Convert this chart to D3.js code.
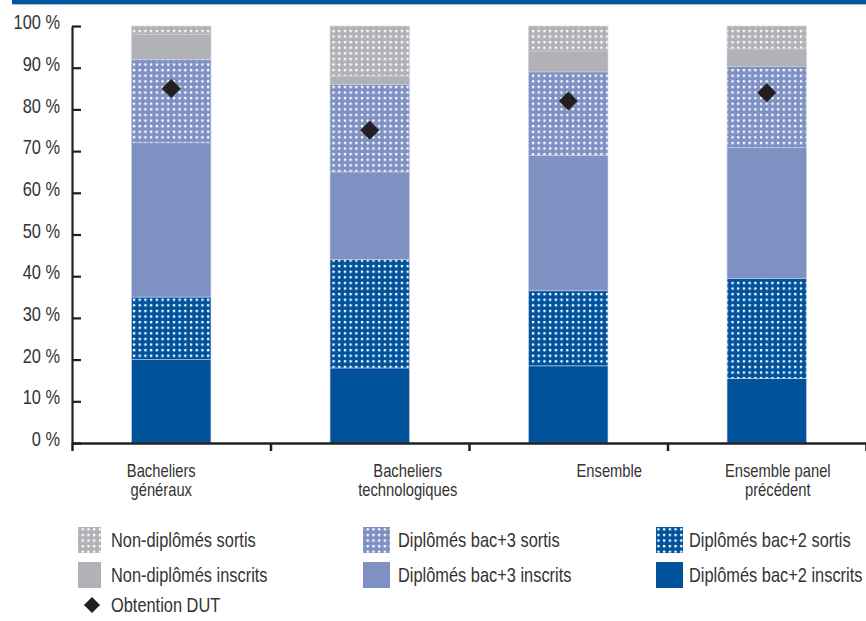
<!DOCTYPE html>
<html lang="fr">
<head>
<meta charset="utf-8">
<script src="https://cdn.jsdelivr.net/npm/d3@7"></script>
<style>
  html, body { margin: 0; padding: 0; background: #fff; }
  svg { display: block; }
  text { font-family: "Liberation Sans", Arial, sans-serif; fill: #333; }
</style>
</head>
<body>
<svg id="chart" width="866" height="621"></svg>
<script>
// Catégories (une ligne de libellé par élément)
const categories = [
  ["Bacheliers", "généraux"],
  ["Bacheliers", "technologiques"],
  ["Ensemble"],
  ["Ensemble panel", "précédent"]
];

// Répartition (%) par situation, de bas en haut de chaque barre
const bac2Inscrits    = [20,   18,   18.5, 15.5];
const bac2Sortis      = [15,   26,   18,   24];
const bac3Inscrits    = [37,   21,   32.5, 31.3];
const bac3Sortis      = [20,   21,   20,   19.5];
const nonDiplInscrits = [6,    2,    5,    4.2];
const nonDiplSortis   = [2,    12,   6,    5.5];

// Taux d'obtention du DUT (%)
const obtentionDUT = [85, 75, 82, 84];

const yTicks = [0, 10, 20, 30, 40, 50, 60, 70, 80, 90, 100];

const seriesNames = [
  "Diplômés bac+2 inscrits", "Diplômés bac+2 sortis",
  "Diplômés bac+3 inscrits", "Diplômés bac+3 sortis",
  "Non-diplômés inscrits", "Non-diplômés sortis"
];
const seriesValues = [bac2Inscrits, bac2Sortis, bac3Inscrits, bac3Sortis, nonDiplInscrits, nonDiplSortis];

// Styles de remplissage
const DARK = "#00529b", MID = "#7f91c3", GREY = "#b1b2b5";
const fills = {
  "Diplômés bac+2 inscrits": DARK,
  "Diplômés bac+2 sortis": "url(#dots-dark)",
  "Diplômés bac+3 inscrits": MID,
  "Diplômés bac+3 sortis": "url(#dots-mid)",
  "Non-diplômés inscrits": GREY,
  "Non-diplômés sortis": "url(#dots-grey)"
};

// Police étroite : Liberation Sans compressée horizontalement
const NARROW = 0.82;

const svg = d3.select("#chart");
const defs = svg.append("defs");
[["dots-dark", DARK], ["dots-mid", MID], ["dots-grey", GREY]].forEach(([id, c]) => {
  const p = defs.append("pattern").attr("id", id)
    .attr("patternUnits", "userSpaceOnUse")
    .attr("width", 5.7).attr("height", 5.6);
  p.append("rect").attr("width", 5.7).attr("height", 5.6).attr("fill", c);
  p.append("rect").attr("x", 1.8).attr("y", 1.8).attr("width", 2.3).attr("height", 2.3)
    .attr("fill", "#fff");
});

function narrowText(g, x, y, str, size, anchor) {
  return g.append("text")
    .attr("transform", `translate(${x},${y}) scale(${NARROW},1)`)
    .attr("text-anchor", anchor || "start")
    .style("font-size", size + "px")
    .text(str);
}

// Bandeau supérieur
svg.append("rect").attr("x", 12).attr("y", 0).attr("width", 854).attr("height", 4).attr("fill", "#0055a0");
svg.append("rect").attr("x", 12).attr("y", 4).attr("width", 854).attr("height", 1).attr("fill", "#a9c0e2");

// Échelles
const x = d3.scaleBand()
  .domain(d3.range(categories.length))
  .range([72, 866])
  .paddingInner(0.6)
  .paddingOuter(0.3);
const y = d3.scaleLinear().domain([0, 100]).range([443, 26]);

// Données empilées
const table = categories.map((c, i) => {
  const row = { i };
  seriesNames.forEach((n, k) => { row[n] = seriesValues[k][i]; });
  return row;
});
const stacked = d3.stack().keys(seriesNames)(table);

const bars = svg.append("g");
stacked.forEach(layer => {
  bars.selectAll(null).data(layer).join("rect")
    .attr("x", d => x(d.data.i))
    .attr("width", x.bandwidth())
    .attr("y", d => y(d[1]))
    .attr("height", d => y(d[0]) - y(d[1]))
    .attr("fill", fills[layer.key])
    .attr("stroke", "#c7cde4")
    .attr("stroke-width", 0.6);
});

// Axe vertical (graduations vers l'intérieur)
const yAxis = svg.append("g").attr("transform", "translate(72,0)")
  .call(d3.axisLeft(y).tickValues(yTicks).tickSizeInner(-9).tickSizeOuter(0).tickPadding(12)
    .tickFormat(d => d + " %"));
yAxis.select(".domain").attr("stroke", "#231f20").attr("stroke-width", 2.2);
yAxis.selectAll(".tick line").attr("stroke", "#231f20").attr("stroke-width", 2.2);
yAxis.selectAll(".tick text")
  .attr("x", null).attr("dy", null)
  .attr("transform", `translate(-12,-4.5) scale(${NARROW},1)`)
  .attr("dominant-baseline", "central")
  .style("font-size", "20px")
  .style("font-family", "'Liberation Sans', Arial, sans-serif")
  .attr("fill", "#333");

// Axe horizontal (séparateurs de catégories)
const xSep = d3.scaleLinear().domain([0, categories.length]).range([72, 866]);
const xAxis = svg.append("g").attr("transform", "translate(0,443)")
  .call(d3.axisBottom(xSep).tickValues(d3.range(categories.length + 1)).tickSize(8).tickSizeOuter(0).tickFormat(""));
xAxis.select(".domain").attr("stroke", "#231f20").attr("stroke-width", 2.5);
xAxis.selectAll(".tick line").attr("stroke", "#231f20").attr("stroke-width", 2.5);

// Libellés des catégories
const labelShift = [-10, 38, 41, 11];
const labels = svg.append("g");
categories.forEach((lines, i) => {
  const cx = x(i) + x.bandwidth() / 2 + labelShift[i];
  lines.forEach((ln, j) => narrowText(labels, cx, 477 + j * 19, ln, 18, "middle"));
});

// Marqueurs d'obtention du DUT
const diamond = d3.symbol().type(d3.symbolDiamond2).size(230);
svg.append("g").selectAll("path").data(obtentionDUT).join("path")
  .attr("d", diamond)
  .attr("transform", (d, i) => `translate(${x(i) + x.bandwidth() / 2},${y(d)})`)
  .attr("fill", "#231f20");

// Légende
const legendItems = [
  { name: "Non-diplômés sortis", sx: 78, sw: 23, tx: 111, row: 0 },
  { name: "Non-diplômés inscrits", sx: 78, sw: 23, tx: 111, row: 1 },
  { name: "Diplômés bac+3 sortis", sx: 363, sw: 27, tx: 398, row: 0 },
  { name: "Diplômés bac+3 inscrits", sx: 363, sw: 27, tx: 398, row: 1 },
  { name: "Diplômés bac+2 sortis", sx: 656, sw: 27, tx: 689, row: 0 },
  { name: "Diplômés bac+2 inscrits", sx: 656, sw: 27, tx: 689, row: 1 }
];
const rowY = [540, 575];
const legend = svg.append("g");
legendItems.forEach(it => {
  legend.append("rect")
    .attr("x", it.sx).attr("y", rowY[it.row] - 13)
    .attr("width", it.sw).attr("height", 26)
    .attr("fill", fills[it.name]);
  narrowText(legend, it.tx, rowY[it.row], it.name, 20).attr("dominant-baseline", "central");
});
legend.append("path")
  .attr("d", d3.symbol().type(d3.symbolDiamond2).size(165))
  .attr("transform", "translate(92,605)")
  .attr("fill", "#231f20");
narrowText(legend, 111, 605, "Obtention DUT", 20).attr("dominant-baseline", "central");
</script>
</body>
</html>
